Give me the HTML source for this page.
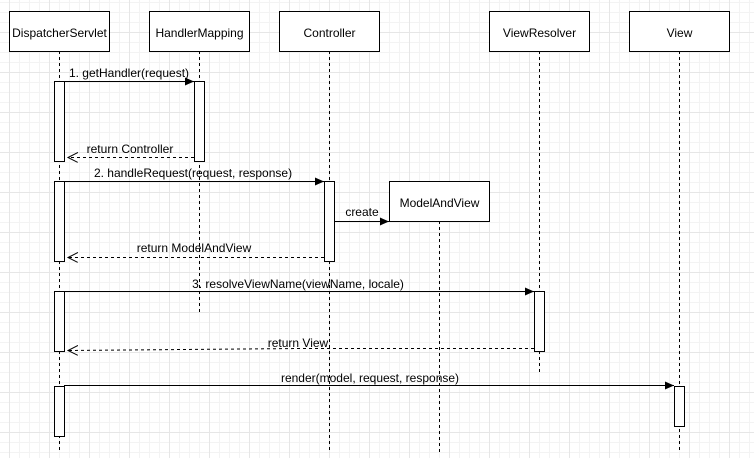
<!DOCTYPE html>
<html><head><style>
html,body{margin:0;padding:0;background:#fff;}
svg{display:block;}
text{font-family:"Liberation Sans",Arial,sans-serif;font-size:12px;fill:#000;}
</style></head><body>
<svg width="754" height="458" viewBox="0 0 754 458" xmlns="http://www.w3.org/2000/svg">
<defs>
<pattern id="minor" width="10" height="10" patternUnits="userSpaceOnUse" x="9" y="2">
<path d="M0 0.5H10M0.5 0V10" stroke="#f3f3f3" stroke-width="1" fill="none"/>
</pattern>
<pattern id="major" width="40" height="40" patternUnits="userSpaceOnUse" x="9" y="-8">
<path d="M0 0.5H40M0.5 0V40" stroke="#e6e6e6" stroke-width="1" fill="none"/>
</pattern>
<marker id="fa" markerWidth="10" markerHeight="10" refX="9" refY="4" orient="auto" markerUnits="userSpaceOnUse">
<path d="M0,0 L9,4 L0,8 Z" fill="#000"/>
</marker>
<marker id="oa" markerWidth="12" markerHeight="12" refX="10" refY="5" orient="auto" markerUnits="userSpaceOnUse">
<path d="M0,0 L10,5 L0,10" fill="none" stroke="#000"/>
</marker>
</defs>
<rect width="754" height="458" fill="url(#minor)"/>
<rect width="754" height="458" fill="url(#major)"/>

<g stroke="#000" stroke-dasharray="3,3" stroke-width="1">
<line x1="59.5" y1="51" x2="59.5" y2="452"/>
<line x1="199.5" y1="51" x2="199.5" y2="312"/>
<line x1="329.5" y1="51" x2="329.5" y2="452"/>
<line x1="539.5" y1="51" x2="539.5" y2="372"/>
<line x1="679.5" y1="51" x2="679.5" y2="452"/>
<line x1="439.5" y1="221" x2="439.5" y2="452"/>
</g>

<g fill="#fff" stroke="#000" stroke-width="1">
<rect x="9.5" y="11.5" width="100" height="40"/>
<rect x="149.5" y="11.5" width="100" height="40"/>
<rect x="279.5" y="11.5" width="100" height="40"/>
<rect x="489.5" y="11.5" width="100" height="40"/>
<rect x="629.5" y="11.5" width="100" height="40"/>
<rect x="389.5" y="181.5" width="100" height="40"/>
</g>
<g text-anchor="middle">
<text x="59.5" y="37">DispatcherServlet</text>
<text x="199.5" y="37">HandlerMapping</text>
<text x="329.5" y="37">Controller</text>
<text x="539.5" y="37">ViewResolver</text>
<text x="679.5" y="37">View</text>
<text x="439.5" y="207">ModelAndView</text>
</g>

<g fill="#fff" stroke="#000" stroke-width="1">
<rect x="54.5" y="81.5" width="10" height="80"/>
<rect x="54.5" y="181.5" width="10" height="80"/>
<rect x="54.5" y="291.5" width="10" height="60"/>
<rect x="54.5" y="386.5" width="10" height="50"/>
<rect x="194.5" y="81.5" width="10" height="80"/>
<rect x="324.5" y="181.5" width="10" height="80"/>
<rect x="534.5" y="291.5" width="10" height="60"/>
<rect x="674.5" y="386.5" width="10" height="40"/>
</g>

<g stroke="#000" stroke-width="1" fill="none">
<line x1="64" y1="81.5" x2="194" y2="81.5" marker-end="url(#fa)"/>
<line x1="194" y1="157.5" x2="68" y2="157.5" stroke-dasharray="3,3" marker-end="url(#oa)"/>
<line x1="64" y1="181.5" x2="324" y2="181.5" marker-end="url(#fa)"/>
<line x1="334" y1="221.5" x2="389" y2="221.5" marker-end="url(#fa)"/>
<line x1="324" y1="257.5" x2="68" y2="257.5" stroke-dasharray="3,3" marker-end="url(#oa)"/>
<line x1="64" y1="291.5" x2="534" y2="291.5" marker-end="url(#fa)"/>
<polyline points="534,348.5 300,348.5 68,350.5" stroke-dasharray="3,3" marker-end="url(#oa)"/>
<line x1="64" y1="385.5" x2="674" y2="385.5" marker-end="url(#fa)"/>
</g>
<g text-anchor="middle">
<text x="129" y="77">1. getHandler(request)</text>
<text x="130" y="153">return Controller</text>
<text x="193" y="177">2. handleRequest(request, response)</text>
<text x="362" y="216">create</text>
<text x="194" y="252">return ModelAndView</text>
<text x="298" y="288">3. resolveViewName(viewName, locale)</text>
<text x="298" y="347">return View</text>
<text x="370" y="382">render(model, request, response)</text>
</g>
</svg>
</body></html>
